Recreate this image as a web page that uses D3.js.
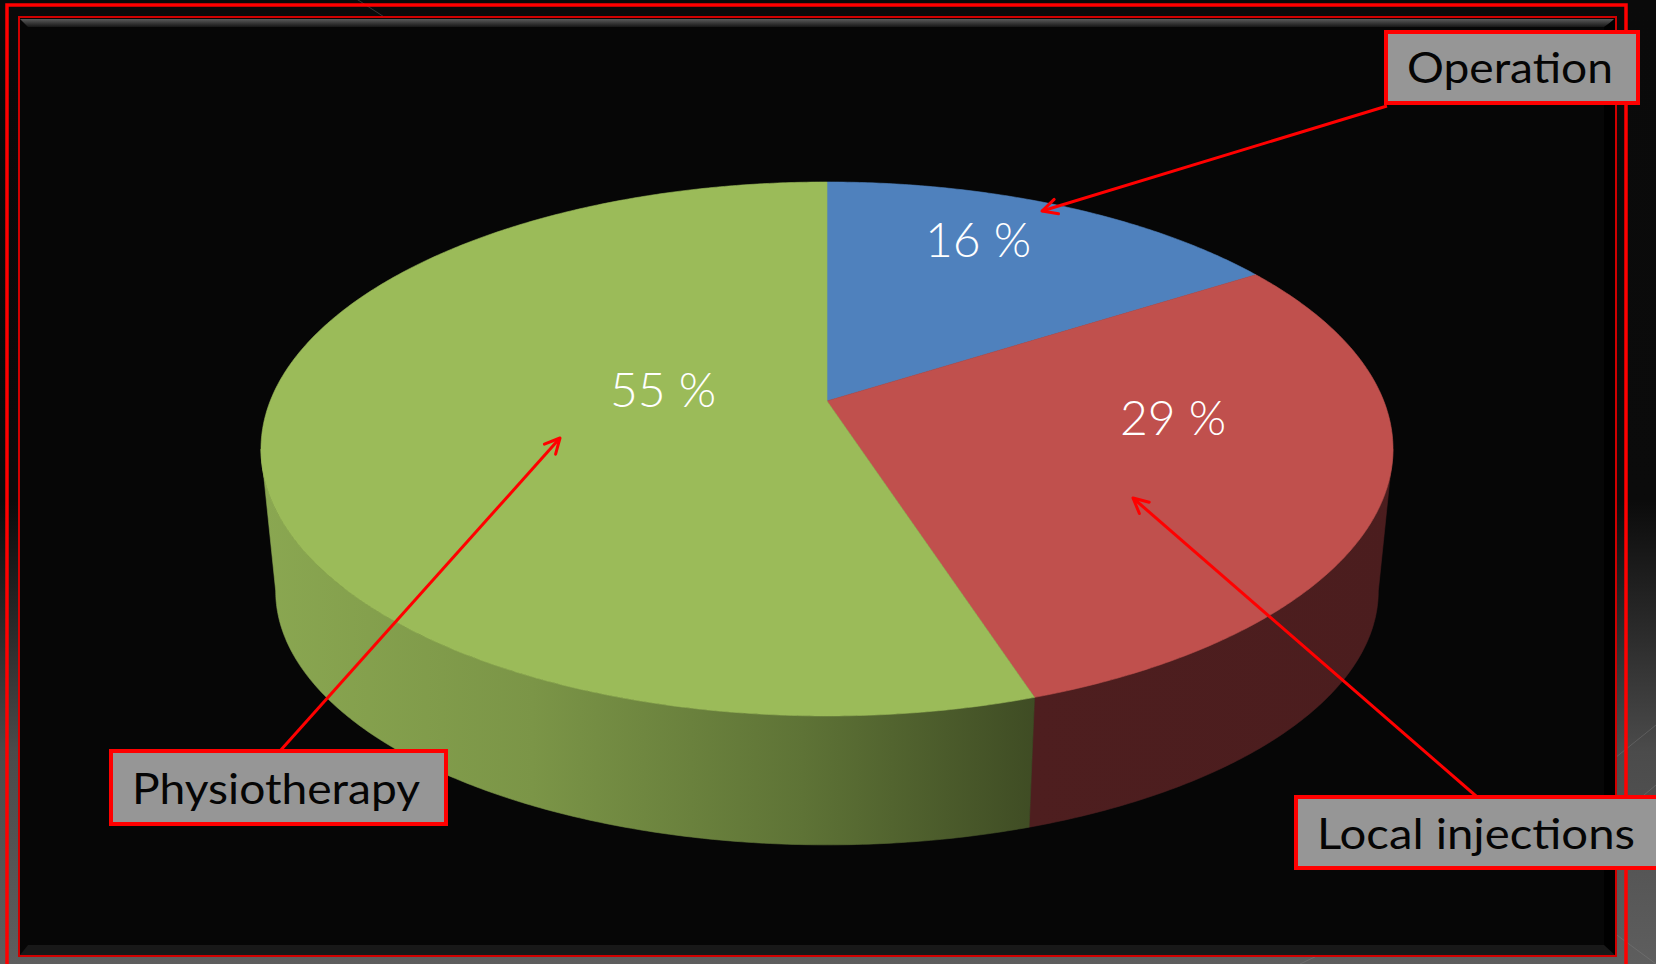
<!DOCTYPE html>
<html>
<head>
<meta charset="utf-8">
<script src="https://cdn.jsdelivr.net/npm/d3@7"></script>
<style>
  html, body { margin: 0; padding: 0; background: #0b0b0b; }
  svg { display: block; }
</style>
</head>
<body>
<svg id="chart" width="1656" height="964"></svg>
<script>
// Treatment shares
const categories = ["Operation", "Local injections", "Physiotherapy"];
const values = [16, 29, 55];
const valueLabels = ["16 %", "29 %", "55 %"];
const topColors = ["#4f81bd", "#c0504d", "#9bbb59"];

const W = 1656, H = 964;
const svg = d3.select("#chart");
const defs = svg.append("defs");

// ---- slide background and frames ----
const bg = defs.append("linearGradient").attr("id", "slideBg")
  .attr("x1", 0).attr("y1", 0).attr("x2", 0).attr("y2", 1);
[[0, "#0a0a0a"], [0.52, "#0b0b0b"], [0.66, "#2c2c2c"], [0.78, "#4b4b4b"], [1, "#5e5e5e"]]
  .forEach(([o, c]) => bg.append("stop").attr("offset", o).attr("stop-color", c));
svg.append("rect").attr("width", W).attr("height", H).attr("fill", "url(#slideBg)");

// faint diagonal strokes of the slide background
const deco = [[355, -2, 395, 24], [1600, 770, 1656, 725], [1620, 815, 1656, 785], [1300, 964, 1340, 945], [1610, 930, 1656, 964]];
svg.append("g").selectAll("line").data(deco).join("line")
  .attr("x1", d => d[0]).attr("y1", d => d[1]).attr("x2", d => d[2]).attr("y2", d => d[3])
  .attr("stroke", "#8a8a8a").attr("stroke-opacity", 0.35).attr("stroke-width", 1);

// outer red frame
svg.append("rect").attr("x", 7).attr("y", 5).attr("width", 1619).attr("height", 980)
  .attr("fill", "none").attr("stroke", "#ff0000").attr("stroke-width", 3.5);

// chart panel with bevelled edges
const panel = { x0: 19, y0: 17, x1: 1616, y1: 956 };
svg.append("rect").attr("x", panel.x0).attr("y", panel.y0)
  .attr("width", panel.x1 - panel.x0).attr("height", panel.y1 - panel.y0)
  .attr("fill", "#060606");
const bevTop = defs.append("linearGradient").attr("id", "bevTop")
  .attr("x1", 0).attr("y1", 0).attr("x2", 0).attr("y2", 1);
bevTop.append("stop").attr("offset", 0).attr("stop-color", "#5a5a5a");
bevTop.append("stop").attr("offset", 1).attr("stop-color", "#161616");
svg.append("path")
  .attr("d", `M${panel.x0 + 1},${panel.y0 + 2} L${panel.x1 - 2},${panel.y0 + 2} L${panel.x1 - 10},${panel.y0 + 10} L${panel.x0 + 9},${panel.y0 + 10} Z`)
  .attr("fill", "url(#bevTop)");
svg.append("path")
  .attr("d", `M${panel.x0 + 9},${panel.y1 - 11} L${panel.x1 - 10},${panel.y1 - 11} L${panel.x1 - 1},${panel.y1 - 1} L${panel.x0 + 1},${panel.y1 - 1} Z`)
  .attr("fill", "#181818");
svg.append("path")
  .attr("d", `M${panel.x1 - 12},${panel.y0 + 10} L${panel.x1 - 1},${panel.y0 + 2} L${panel.x1 - 1},${panel.y1 - 1} L${panel.x1 - 12},${panel.y1 - 11} Z`)
  .attr("fill", "#000000");
svg.append("rect").attr("x", panel.x0).attr("y", panel.y0)
  .attr("width", panel.x1 - panel.x0).attr("height", panel.y1 - panel.y0)
  .attr("fill", "none").attr("stroke", "#d00000").attr("stroke-width", 2);

// ---- 3D pie: perspective view of the top disc, wall base drawn as a scaled copy ----
const cam = { cx: 827, cy: 401, f: 2745, d: 4.93, tilt: Math.asin(0.464) };
const wall = { refY: 449, baseY: 591, kx: 0.974, ky: 0.951 };
const cA = Math.cos(cam.tilt), sA = Math.sin(cam.tilt);

// angle a: 0 at 12 o'clock, clockwise (d3.pie convention); level 0 = top face, 1 = base
function project(a, r, level) {
  const ct = r * Math.sin(a);      // right
  const st = r * Math.cos(a);      // away from viewer
  const z = cam.d + st * cA;
  const x = cam.cx + cam.f * ct / z;
  const y = cam.cy - cam.f * st * sA / z;
  if (!level) return [x, y];
  return [cam.cx + wall.kx * (x - cam.cx), wall.baseY + wall.ky * (y - wall.refY)];
}
function arcSamples(a0, a1, level) {
  const n = Math.max(2, Math.ceil(Math.abs(a1 - a0) / (Math.PI / 360)));
  return d3.range(n + 1).map(i => project(a0 + (a1 - a0) * i / n, 1, level));
}

const pie = d3.pie().sort(null).value(d => d);
const arcs = pie(values);
const line = d3.line().curve(d3.curveLinearClosed);

// wall shading
const greenSide = defs.append("linearGradient").attr("id", "greenSide")
  .attr("gradientUnits", "userSpaceOnUse").attr("x1", 262).attr("y1", 0).attr("x2", 1035).attr("y2", 0);
[[0, "#8aa751"], [0.35, "#7b9547"], [0.7, "#5e7336"], [1, "#3f4c24"]]
  .forEach(([o, c]) => greenSide.append("stop").attr("offset", o).attr("stop-color", c));
const redSide = defs.append("linearGradient").attr("id", "redSide")
  .attr("gradientUnits", "userSpaceOnUse").attr("x1", 1030).attr("y1", 0).attr("x2", 1400).attr("y2", 0);
redSide.append("stop").attr("offset", 0).attr("stop-color", "#4e1e1f");
redSide.append("stop").attr("offset", 1).attr("stop-color", "#4b1d1e");
const sideFills = ["#2b4466", "url(#redSide)", "url(#greenSide)"];

// visible wall runs between the silhouette angles (widest points of the disc outline)
const A0 = Math.acos(-cA / cam.d), A1 = 2 * Math.PI - A0;
const gPie = svg.append("g");
arcs.forEach((s, i) => {
  const a0 = Math.max(s.startAngle, A0), a1 = Math.min(s.endAngle, A1);
  if (a1 <= a0) return;
  const pts = arcSamples(a0, a1, 0).concat(arcSamples(a0, a1, 1).reverse());
  gPie.append("path").attr("d", line(pts)).attr("fill", sideFills[i])
    .attr("stroke", sideFills[i]).attr("stroke-width", 0.6);
});
arcs.forEach((s, i) => {
  const pts = [project(0, 0, 0)].concat(arcSamples(s.startAngle, s.endAngle, 0));
  gPie.append("path").attr("d", line(pts)).attr("fill", topColors[i])
    .attr("stroke", topColors[i]).attr("stroke-width", 0.6);
});

// value labels on the slices
const valuePos = [[978, 257], [1173, 435], [663, 407]];
svg.append("g").selectAll("text").data(valueLabels).join("text")
  .attr("x", (d, i) => valuePos[i][0]).attr("y", (d, i) => valuePos[i][1])
  .attr("text-anchor", "middle")
  .attr("font-family", "Lato, 'Open Sans', sans-serif").attr("font-weight", 300)
  .attr("font-size", 48).attr("fill", "#ffffff")
  .text(d => d);

// ---- callout boxes with arrows ----
defs.append("marker").attr("id", "arrowHead")
  .attr("viewBox", "0 0 20 20").attr("refX", 18).attr("refY", 10)
  .attr("markerWidth", 20).attr("markerHeight", 20).attr("markerUnits", "userSpaceOnUse")
  .attr("orient", "auto")
  .append("path").attr("d", "M3,2.5 L18,10 L3,17.5")
  .attr("fill", "none").attr("stroke", "#ff0000").attr("stroke-width", 3)
  .attr("stroke-linecap", "round").attr("stroke-linejoin", "round");

const callouts = [
  { box: [1386, 32, 252, 71], text: [1407, 83, 206], from: [1387, 106], to: [1042, 211] },
  { box: [1296, 797, 380, 71], text: [1317, 849, 318], from: [1476, 796], to: [1133, 498] },
  { box: [111, 751, 335, 73], text: [132, 804, 288], from: [280, 751], to: [560, 438] }
];
const gCall = svg.append("g");
callouts.forEach((c, i) => {
  gCall.append("line")
    .attr("x1", c.from[0]).attr("y1", c.from[1]).attr("x2", c.to[0]).attr("y2", c.to[1])
    .attr("stroke", "#ff0000").attr("stroke-width", 3).attr("marker-end", "url(#arrowHead)");
  gCall.append("rect").attr("x", c.box[0]).attr("y", c.box[1])
    .attr("width", c.box[2]).attr("height", c.box[3])
    .attr("fill", "#969696").attr("stroke", "#ff0000").attr("stroke-width", 4);
  gCall.append("text").attr("x", c.text[0]).attr("y", c.text[1])
    .attr("textLength", c.text[2]).attr("lengthAdjust", "spacingAndGlyphs")
    .attr("font-family", "Lato, 'Open Sans', sans-serif").attr("font-size", 42)
    .attr("fill", "#050505")
    .text(categories[i]);
});
</script>
</body>
</html>
